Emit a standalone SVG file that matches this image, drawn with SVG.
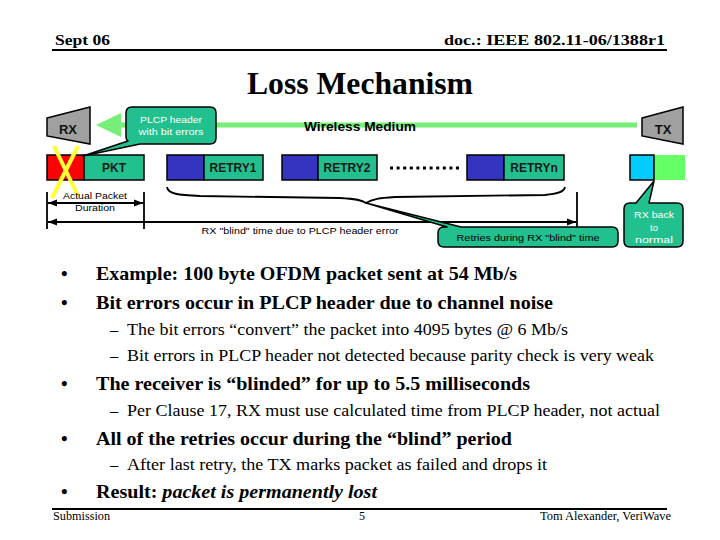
<svg xmlns="http://www.w3.org/2000/svg" width="720" height="540" viewBox="0 0 720 540">
<defs>
<style>
.serif{font-family:"Liberation Serif","Times New Roman",serif;fill:#000}
.hdr{font-size:15px;font-weight:bold}
.l1{font-size:19px;font-weight:bold}
.l2{font-size:16.5px}
.sans{font-family:"Liberation Sans",Arial,sans-serif}
.lbl{font-size:12px;font-weight:bold;fill:#1a1a1a;text-anchor:middle}
.small{font-size:9px;fill:#000}
.cw{font-size:9.5px;fill:#fff;text-anchor:middle}
.box{stroke:#000;stroke-width:1.5}
.teal{fill:#22c08e}
.blue{fill:#3434c0}
.call{fill:#22c08e;stroke:#000;stroke-width:1.5;stroke-linejoin:round}
.dim{stroke:#000;stroke-width:1.8;fill:none}
</style>
<marker id="ah" viewBox="0 0 10 10" refX="10" refY="5" markerWidth="5" markerHeight="5" orient="auto-start-reverse">
<path d="M0,1 L10,5 L0,9 Z" fill="#000"/>
</marker>
</defs>
<rect width="720" height="540" fill="#fff"/>

<g id="header">
<text class="serif hdr" x="55" y="45" textLength="55" lengthAdjust="spacingAndGlyphs">Sept 06</text>
<text class="serif hdr" x="665" y="45" text-anchor="end" textLength="221" lengthAdjust="spacingAndGlyphs">doc.: IEEE 802.11-06/1388r1</text>
<line x1="52" y1="50" x2="667" y2="50" stroke="#000" stroke-width="2"/>
<text class="serif" x="360" y="94" text-anchor="middle" font-size="31" font-weight="bold" textLength="226" lengthAdjust="spacingAndGlyphs">Loss Mechanism</text>
</g>

<g id="medium">
<polygon points="96,125 121,113 121,122.5 637,122.5 637,127.5 121,127.5 121,137" fill="#77ee77"/>
<text class="sans" x="360" y="131" text-anchor="middle" font-size="13" font-weight="bold" textLength="112" lengthAdjust="spacingAndGlyphs">Wireless Medium</text>
</g>

<g id="rx">
<polygon points="47,118 90,107 90,144 47,136" fill="#a0a0a0" stroke="#000" stroke-width="1.5"/>
<text class="sans" x="68" y="134" text-anchor="middle" font-size="13" font-weight="bold" fill="#111">RX</text>
</g>
<g id="tx">
<polygon points="642,118 683,107 683,144 642,136" fill="#a0a0a0" stroke="#000" stroke-width="1.5"/>
<text class="sans" x="663" y="134" text-anchor="middle" font-size="13" font-weight="bold" fill="#111">TX</text>
</g>

<g id="packets">
<rect class="box" x="47" y="155" width="37" height="25" fill="#ff0000"/>
<rect class="box teal" x="84" y="155" width="60" height="25"/>
<text class="sans lbl" x="114" y="172">PKT</text>
<rect class="box blue" x="167" y="155" width="37" height="25"/>
<rect class="box teal" x="204" y="155" width="59" height="25"/>
<text class="sans lbl" x="233" y="172">RETRY1</text>
<rect class="box blue" x="282" y="155" width="36" height="25"/>
<rect class="box teal" x="318" y="155" width="59" height="25"/>
<text class="sans lbl" x="347" y="172">RETRY2</text>
<line x1="390" y1="168" x2="462" y2="168" stroke="#000" stroke-width="3" stroke-dasharray="3,3.6"/>
<rect class="box blue" x="467" y="155" width="37" height="25"/>
<rect class="box teal" x="504" y="155" width="60" height="25"/>
<text class="sans lbl" x="534" y="172">RETRYn</text>
<rect class="box" x="630" y="155" width="24" height="25" fill="#00ccff"/>
<rect x="654" y="155" width="31" height="25" fill="#66ff66"/>
<line x1="654" y1="155" x2="654" y2="180" stroke="#000" stroke-width="1.5"/>
</g>

<g id="cross">
<line x1="54" y1="146" x2="78" y2="196" stroke="#ffff33" stroke-width="4"/>
<line x1="78" y1="146" x2="52" y2="198" stroke="#ffff33" stroke-width="4"/>
</g>

<g id="connectors">
<line class="dim" x1="47" y1="192" x2="47" y2="229"/>
<line class="dim" x1="144" y1="192" x2="144" y2="229"/>
<line class="dim" x1="577" y1="192" x2="577" y2="229"/>
<line class="dim" x1="48" y1="203" x2="143" y2="203" marker-start="url(#ah)" marker-end="url(#ah)"/>
<line class="dim" x1="48" y1="222" x2="576" y2="222" marker-start="url(#ah)" marker-end="url(#ah)"/>
<path class="dim" d="M167,187 C168,194 178,195 200,196 L340,198 C356,199 362,200 366,203 C372,199 380,198 395,197 L545,195 C558,194 564,192 565,187"/>
</g>

<g id="labels">
<text class="sans small" x="95" y="199" text-anchor="middle" textLength="64" lengthAdjust="spacingAndGlyphs">Actual Packet</text>
<text class="sans small" x="95" y="211" text-anchor="middle" textLength="40" lengthAdjust="spacingAndGlyphs">Duration</text>
<text class="sans small" x="300" y="234" text-anchor="middle" textLength="197" lengthAdjust="spacingAndGlyphs">RX "blind" time due to PLCP header error</text>
</g>

<g id="callout-plcp">
<path class="call" d="M132,107 H210 Q216,107 216,113 V138 Q216,144 210,144 H140 L83,156 L128,141 Q126,140 126,136 V113 Q126,107 132,107 Z"/>
<text class="sans cw" x="171" y="123" textLength="62" lengthAdjust="spacingAndGlyphs">PLCP header</text>
<text class="sans cw" x="171" y="135" textLength="65" lengthAdjust="spacingAndGlyphs">with bit errors</text>
</g>

<g id="callout-retries">
<path class="call" d="M444,227 H447 L366,203 L461,227 H612 Q618,227 618,233 V241 Q618,247 612,247 H444 Q438,247 438,241 V233 Q438,227 444,227 Z"/>
<text class="sans small" x="528" y="241" text-anchor="middle" textLength="143" lengthAdjust="spacingAndGlyphs">Retries during RX "blind" time</text>
</g>

<g id="callout-back">
<path class="call" d="M630,203 H636 L654,181 L649,203 H677 Q683,203 683,209 V241 Q683,247 677,247 H630 Q624,247 624,241 V209 Q624,203 630,203 Z"/>
<text class="sans cw" x="654" y="218" textLength="40" lengthAdjust="spacingAndGlyphs">RX back</text>
<text class="sans cw" x="654" y="231">to</text>
<text class="sans cw" x="654" y="243" textLength="38" lengthAdjust="spacingAndGlyphs">normal</text>
</g>

<g id="bullets">
<text class="serif l1" x="61" y="280">•</text>
<text class="serif l1" x="96" y="280" textLength="421" lengthAdjust="spacingAndGlyphs">Example: 100 byte OFDM packet sent at 54 Mb/s</text>
<text class="serif l1" x="61" y="309">•</text>
<text class="serif l1" x="96" y="309" textLength="457" lengthAdjust="spacingAndGlyphs">Bit errors occur in PLCP header due to channel noise</text>
<text class="serif l2" x="110" y="335">–</text>
<text class="serif l2" x="127" y="335" textLength="441" lengthAdjust="spacingAndGlyphs">The bit errors “convert” the packet into 4095 bytes @ 6 Mb/s</text>
<text class="serif l2" x="110" y="361">–</text>
<text class="serif l2" x="127" y="361" textLength="527" lengthAdjust="spacingAndGlyphs">Bit errors in PLCP header not detected because parity check is very weak</text>
<text class="serif l1" x="61" y="390">•</text>
<text class="serif l1" x="96" y="390" textLength="434" lengthAdjust="spacingAndGlyphs">The receiver is “blinded” for up to 5.5 milliseconds</text>
<text class="serif l2" x="110" y="416">–</text>
<text class="serif l2" x="127" y="416" textLength="533" lengthAdjust="spacingAndGlyphs">Per Clause 17, RX must use calculated time from PLCP header, not actual</text>
<text class="serif l1" x="61" y="445">•</text>
<text class="serif l1" x="96" y="445" textLength="416" lengthAdjust="spacingAndGlyphs">All of the retries occur during the “blind” period</text>
<text class="serif l2" x="110" y="470">–</text>
<text class="serif l2" x="127" y="470" textLength="420" lengthAdjust="spacingAndGlyphs">After last retry, the TX marks packet as failed and drops it</text>
<text class="serif l1" x="61" y="498">•</text>
<text class="serif l1" x="96" y="498" textLength="281" lengthAdjust="spacingAndGlyphs">Result: <tspan font-style="italic">packet is permanently lost</tspan></text>
</g>

<g id="footer">
<line x1="52" y1="509" x2="667" y2="509" stroke="#000" stroke-width="2"/>
<text class="serif" x="53" y="520" font-size="12" textLength="57" lengthAdjust="spacingAndGlyphs">Submission</text>
<text class="serif" x="362" y="520" font-size="12" text-anchor="middle">5</text>
<text class="serif" x="671" y="520" font-size="12" text-anchor="end" textLength="131" lengthAdjust="spacingAndGlyphs">Tom Alexander, VeriWave</text>
</g>
</svg>
